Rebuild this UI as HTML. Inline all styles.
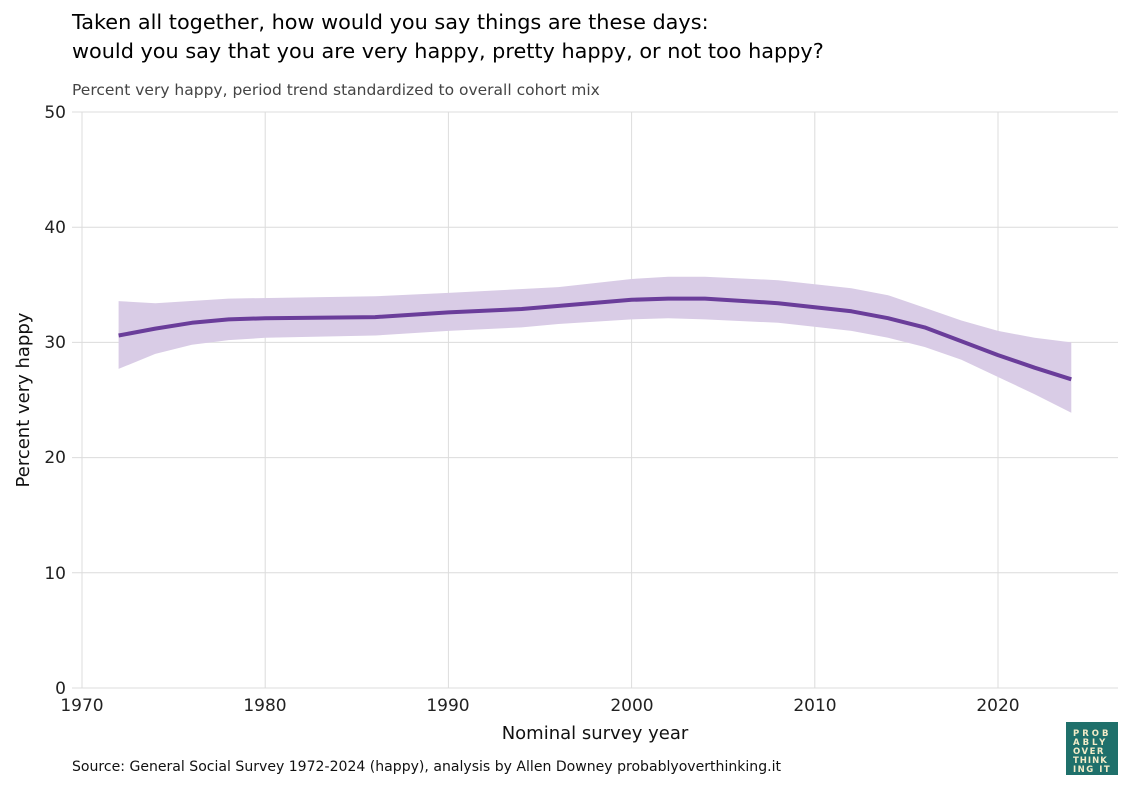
<!DOCTYPE html>
<html><head><meta charset="utf-8"><style>
body{margin:0;background:#fff;}
svg text{font-family:"DejaVu Sans","Liberation Sans",sans-serif;}
</style></head><body>
<svg width="1133" height="790" xmlns="http://www.w3.org/2000/svg">
<rect width="1133" height="790" fill="#fff"/>
<text x="72" y="29" font-size="20.8" fill="#000">Taken all together, how would you say things are these days:</text>
<text x="72" y="58" font-size="20.8" fill="#000">would you say that you are very happy, pretty happy, or not too happy?</text>
<text x="72" y="95" font-size="15.5" fill="#444">Percent very happy, period trend standardized to overall cohort mix</text>
<g stroke="#dcdcdc" stroke-width="1">
<line x1="72" y1="112" x2="1118" y2="112"/><line x1="72" y1="227.2" x2="1118" y2="227.2"/>
<line x1="72" y1="342.4" x2="1118" y2="342.4"/><line x1="72" y1="457.6" x2="1118" y2="457.6"/>
<line x1="72" y1="572.8" x2="1118" y2="572.8"/><line x1="72" y1="688" x2="1118" y2="688"/>
<line x1="82" y1="112" x2="82" y2="688"/><line x1="265.2" y1="112" x2="265.2" y2="688"/>
<line x1="448.4" y1="112" x2="448.4" y2="688"/><line x1="631.6" y1="112" x2="631.6" y2="688"/>
<line x1="814.8" y1="112" x2="814.8" y2="688"/><line x1="998" y1="112" x2="998" y2="688"/>
</g>
<g font-size="17" fill="#222" text-anchor="end">
<text x="66" y="118">50</text><text x="66" y="233">40</text><text x="66" y="348">30</text>
<text x="66" y="463">20</text><text x="66" y="579">10</text><text x="66" y="694">0</text>
</g>
<g font-size="17" fill="#222" text-anchor="middle">
<text x="82" y="711">1970</text><text x="265" y="711">1980</text><text x="448" y="711">1990</text>
<text x="632" y="711">2000</text><text x="815" y="711">2010</text><text x="998" y="711">2020</text>
</g>
<text x="595" y="739" font-size="18" fill="#111" text-anchor="middle">Nominal survey year</text>
<text transform="translate(29,400) rotate(-90)" font-size="18" fill="#111" text-anchor="middle">Percent very happy</text>
<polygon fill="#d9cce6" points="118.6,301.1 155.3,303.2 228.6,298.6 375.1,296.3 448.4,292.9 558.3,287.1 631.6,279 668.2,276.7 704.9,276.7 778.2,280.2 851.4,288.3 888.1,295.2 924.7,307.8 961.4,320.5 998,330.9 1034.6,337.8 1071.3,342.4 1071.3,412.7 1034.6,394.2 998,377 961.4,359.7 924.7,347 888.1,337.8 851.4,330.9 778.2,322.8 704.9,319.4 668.2,318.2 631.6,319.4 558.3,324 521.7,327.4 448.4,330.9 375.1,335.5 265.2,337.8 228.6,340.1 191.9,344.7 155.3,353.9 118.6,368.9"/>
<polyline fill="none" stroke="#6a3d9a" stroke-width="4" stroke-linejoin="round" points="118.6,335.5 155.3,328.6 191.9,322.8 228.6,319.4 265.2,318.2 375.1,317.1 448.4,312.4 521.7,309 631.6,299.8 668.2,298.6 704.9,298.6 778.2,303.2 851.4,311.3 888.1,318.2 924.7,327.4 961.4,341.2 998,355.1 1034.6,367.7 1071.3,379.3"/>
<text x="72" y="771" font-size="14.5" fill="#111" textLength="709" lengthAdjust="spacingAndGlyphs">Source: General Social Survey 1972-2024 (happy), analysis by Allen Downey probablyoverthinking.it</text>
<rect x="1066" y="722" width="52" height="53" fill="#1f706b"/>
<g font-size="8.5" font-weight="bold" fill="#f3ecc8" font-family="Liberation Sans,sans-serif">
<text x="1073" y="736" letter-spacing="3">PROB</text>
<text x="1073" y="745" letter-spacing="3">ABLY</text>
<text x="1073" y="754" letter-spacing="1.5">OVER</text>
<text x="1073" y="763" letter-spacing="1">THINK</text>
<text x="1073" y="772" letter-spacing="1.5">ING IT</text>
</g>
</svg>
</body></html>
